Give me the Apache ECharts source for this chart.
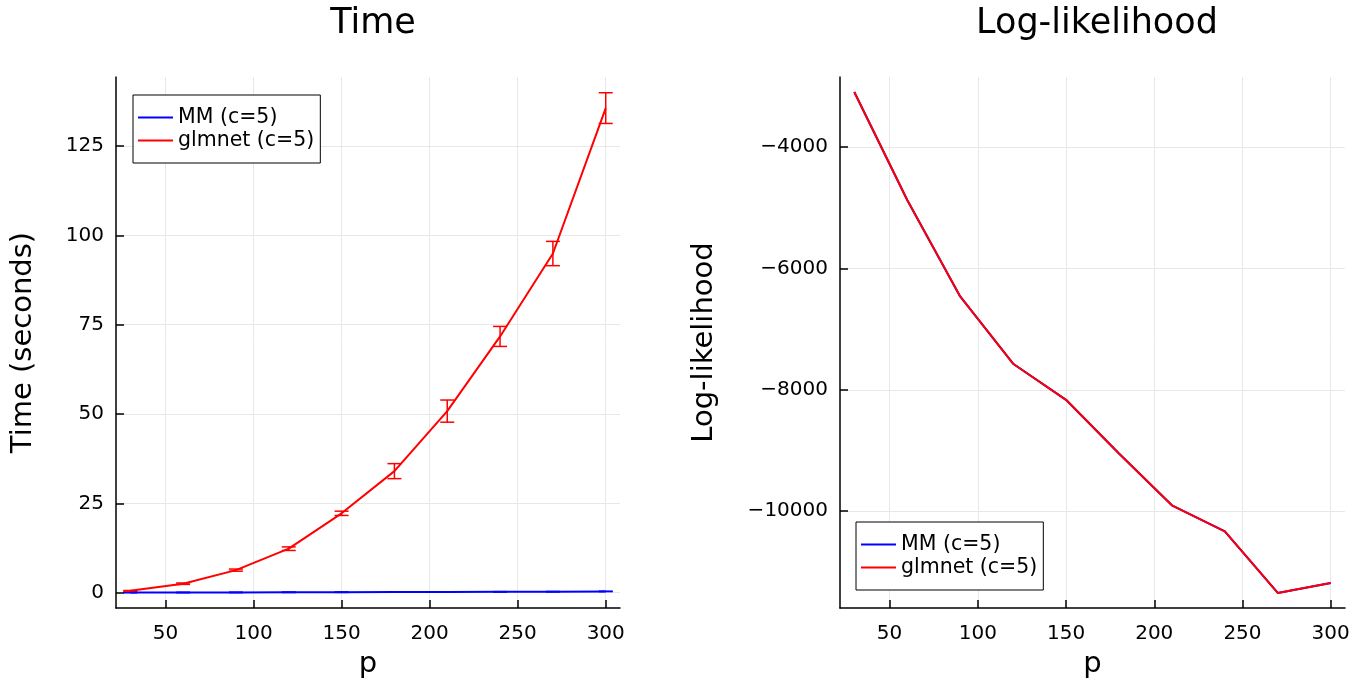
<!DOCTYPE html>
<html>
<head>
<meta charset="utf-8">
<script src="https://cdn.jsdelivr.net/npm/echarts@6/dist/echarts.min.js"></script>
<style>
  html, body { margin: 0; padding: 0; background: #fff; }
  #chart { width: 1363px; height: 685px; }
</style>
</head>
<body>
<div id="chart"></div>
<script>
// data
const p = [30, 60, 90, 120, 150, 180, 210, 240, 270, 300]
const mmTime = [0.02, 0.04, 0.06, 0.09, 0.12, 0.15, 0.19, 0.23, 0.28, 0.34]
const mmErr = [0.05, 0.05, 0.05, 0.05, 0.05, 0.05, 0.05, 0.05, 0.05, 0.05]
const glmTime = [0.5, 2.5, 6.3, 12.3, 22.2, 34.0, 50.8, 71.7, 94.9, 135.6]
const glmErr = [0.1, 0.2, 0.3, 0.5, 0.6, 2.1, 3.1, 2.8, 3.4, 4.3]
const mmLogLik = [-3090, -4870, -6460, -7570, -8165, -9050, -9905, -10335, -11350, -11185]
const glmLogLik = [-3090, -4870, -6460, -7570, -8165, -9050, -9905, -10335, -11350, -11185]

const xTicks = [50, 100, 150, 200, 250, 300]
const timeTicks = [0, 25, 50, 75, 100, 125]
const llTicks = [-10000, -8000, -6000, -4000]

const names = ['MM (c=5)', 'glmnet (c=5)']
const BLUE = '#0000ff'
const RED = '#ff0000'
const FONT = 'DejaVu Sans'

function zip(xs, ys) {
  return xs.map((x, i) => [x, ys[i]])
}

function errData(xs, ys, es) {
  return xs.map((x, i) => [x, ys[i] - es[i], ys[i] + es[i]])
}

function errRender(color) {
  return function (params, api) {
    const x = api.value(0)
    const a = api.coord([x, api.value(2)])
    const b = api.coord([x, api.value(1)])
    const w = 7
    const style = { stroke: color, lineWidth: 1.5 }
    return {
      type: 'group',
      children: [
        { type: 'line', shape: { x1: a[0], y1: a[1], x2: b[0], y2: b[1] }, style: style },
        { type: 'line', shape: { x1: a[0] - w, y1: a[1], x2: a[0] + w, y2: a[1] }, style: style },
        { type: 'line', shape: { x1: b[0] - w, y1: b[1], x2: b[0] + w, y2: b[1] }, style: style }
      ]
    }
  }
}

const minus = v => String(v).replace('-', '\u2212')

function xAxis(gridIndex) {
  return {
    type: 'value',
    gridIndex: gridIndex,
    min: 21.9,
    max: 308.1,
    name: 'p',
    nameLocation: 'middle',
    nameGap: 42,
    nameTextStyle: { fontFamily: FONT, fontSize: 29, color: '#000' },
    axisLine: { show: true, onZero: false, lineStyle: { color: '#000', width: 1.5 } },
    axisTick: { show: true, inside: true, length: 8, customValues: xTicks, lineStyle: { color: '#000', width: 1.5 } },
    axisLabel: { customValues: xTicks, margin: 16, fontFamily: FONT, fontSize: 20, color: '#000' },
    splitLine: { show: true, lineStyle: { color: '#e8e8e8', width: 1 } }
  }
}

function yAxis(gridIndex, opts) {
  return Object.assign({
    type: 'value',
    gridIndex: gridIndex,
    nameLocation: 'middle',
    nameTextStyle: { fontFamily: FONT, fontSize: 29, color: '#000' },
    axisLine: { show: true, onZero: false, lineStyle: { color: '#000', width: 1.5 } },
    axisTick: { show: true, inside: true, length: 8, customValues: opts.ticks, lineStyle: { color: '#000', width: 1.5 } },
    axisLabel: { customValues: opts.ticks, margin: 12, fontFamily: FONT, fontSize: 20, color: '#000', formatter: minus },
    splitLine: { show: true, lineStyle: { color: '#e8e8e8', width: 1 } }
  }, opts.extra)
}

function legend(left, top) {
  return {
    data: names,
    orient: 'vertical',
    left: left,
    top: top,
    padding: [11, 6, 11, 5],
    icon: 'rect',
    itemWidth: 35,
    itemHeight: 2,
    itemGap: 0,
    itemStyle: { borderWidth: 0 },
    borderColor: '#000',
    borderWidth: 1,
    backgroundColor: '#fff',
    selectedMode: false,
    textStyle: { fontFamily: FONT, fontSize: 20.5, color: '#000', lineHeight: 23 }
  }
}

const chart = echarts.init(document.getElementById('chart'))

chart.setOption({
  animation: false,
  backgroundColor: '#fff',
  title: [
    { text: 'Time', left: 368, top: 1, textAlign: 'center', textStyle: { fontFamily: FONT, fontSize: 35, fontWeight: 'normal', color: '#000' } },
    { text: 'Log-likelihood', left: 1092, top: 1, textAlign: 'center', textStyle: { fontFamily: FONT, fontSize: 35, fontWeight: 'normal', color: '#000' } }
  ],
  legend: [legend(133, 95), legend(856, 522)],
  grid: [
    { left: 116, top: 77, width: 504, height: 531 },
    { left: 840, top: 77, width: 505, height: 531 }
  ],
  xAxis: [xAxis(0), xAxis(1)],
  yAxis: [
    yAxis(0, { ticks: timeTicks, extra: { min: -4.3, max: 144.3, name: 'Time (seconds)', nameGap: 78 } }),
    yAxis(1, { ticks: llTicks, extra: { min: -11598, max: -2842, name: 'Log-likelihood', nameGap: 121 } })
  ],
  series: [
    { name: names[0], type: 'line', xAxisIndex: 0, yAxisIndex: 0, data: zip(p, mmTime), symbol: 'none', color: BLUE, lineStyle: { color: BLUE, width: 2 } },
    { name: 'mm err', type: 'custom', xAxisIndex: 0, yAxisIndex: 0, data: errData(p, mmTime, mmErr), encode: { x: 0, y: [1, 2] }, renderItem: errRender(BLUE) },
    { name: names[1], type: 'line', xAxisIndex: 0, yAxisIndex: 0, data: zip(p, glmTime), symbol: 'none', color: RED, lineStyle: { color: RED, width: 2 } },
    { name: 'glm err', type: 'custom', xAxisIndex: 0, yAxisIndex: 0, data: errData(p, glmTime, glmErr), encode: { x: 0, y: [1, 2] }, renderItem: errRender(RED) },
    { name: names[0], type: 'line', xAxisIndex: 1, yAxisIndex: 1, data: zip(p, mmLogLik), symbol: 'none', color: BLUE, lineStyle: { color: BLUE, width: 2 } },
    { name: names[1], type: 'line', xAxisIndex: 1, yAxisIndex: 1, data: zip(p, glmLogLik), symbol: 'none', color: RED, lineStyle: { color: RED, width: 2 } }
  ]
})
</script>
</body>
</html>
